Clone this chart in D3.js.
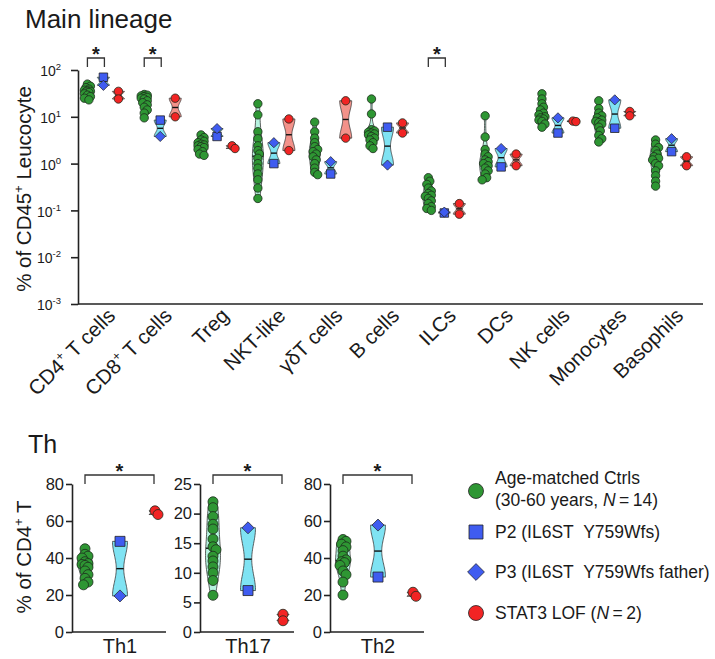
<!DOCTYPE html>
<html>
<head>
<meta charset="utf-8">
<script src="https://cdn.jsdelivr.net/npm/d3@7"></script>
<style>
  body { margin: 0; background: #fff; }
  text { font-family: "Liberation Sans", Arial, sans-serif; fill: #1a1a1a; }
</style>
</head>
<body>
<svg id="chart" width="715" height="659"></svg>
<script>
// ---- data: main lineage (% of CD45+ leucocytes) ----
const cellTypes = ["CD4^+ T cells", "CD8^+ T cells", "Treg", "NKT-like", "γδT cells", "B cells",
                   "ILCs", "DCs", "NK cells", "Monocytes", "Basophils"];
const ctrlMain = [
  [50, 45, 42, 39, 37, 36, 35, 34, 33, 31, 29, 27, 25, 23],
  [30, 29, 28, 27, 26, 25, 24, 22, 20, 18, 16, 14, 12, 9.5],
  [4.1, 3.6, 3.2, 3.0, 2.8, 2.6, 2.5, 2.4, 2.3, 2.2, 2.0, 1.8, 1.6, 1.5],
  [19, 11, 4.8, 3.4, 2.4, 1.9, 1.6, 1.3, 1.0, 0.8, 0.6, 0.45, 0.3, 0.18],
  [7.7, 4.8, 3.5, 2.8, 2.3, 2.0, 1.8, 1.6, 1.4, 1.2, 1.0, 0.8, 0.65, 0.58],
  [24, 11.5, 5.3, 5.0, 4.7, 4.5, 4.3, 4.1, 3.8, 3.5, 3.2, 2.8, 2.4, 2.1],
  [0.5, 0.42, 0.36, 0.3, 0.26, 0.23, 0.21, 0.2, 0.18, 0.16, 0.14, 0.12, 0.11, 0.1],
  [10.5, 3.7, 2.0, 1.6, 1.4, 1.2, 1.1, 1.0, 0.9, 0.8, 0.7, 0.6, 0.5, 0.45],
  [31, 24, 19, 16, 14, 12, 11, 10, 9.5, 9, 8.5, 8, 7, 6],
  [22, 15, 12, 10.5, 9.5, 8.5, 8, 7.5, 7, 6, 5, 4, 3.4, 2.9],
  [3.2, 2.6, 2.2, 1.9, 1.6, 1.4, 1.3, 1.2, 1.0, 0.9, 0.7, 0.55, 0.42, 0.33]
];
const p2Main = [70, 8.5, 3.8, 1.0, 0.6, 6.0, 0.088, 0.85, 4.5, 5.7, 1.8];
const p3Main = [47, 3.8, 5.6, 2.8, 1.1, 0.93, 0.092, 2.1, 9.5, 23, 3.4];
const stat3Main = [[35, 24], [25, 10], [2.4, 2.1], [9, 1.9], [22, 3.5], [7.4, 4.5],
                   [0.14, 0.083], [1.6, 0.9], [8.1, 7.9], [13, 10.5], [1.4, 0.9]];
const mainSig = ["CD4^+ T cells", "CD8^+ T cells", "ILCs"];
const logExponents = [-3, -2, -1, 0, 1, 2];

// ---- data: Th subsets (% of CD4+ T) ----
const thSubsets = ["Th1", "Th17", "Th2"];
const thMax = [80, 25, 80];
const thTicks = [[0, 20, 40, 60, 80], [0, 5, 10, 15, 20, 25], [0, 20, 40, 60, 80]];
const ctrlTh = [
  [45, 42, 41, 40, 38, 37, 36.5, 36, 35, 33, 31, 29, 27, 25.5],
  [22, 21, 19.5, 18.2, 17.4, 15.7, 14.4, 13.9, 12.8, 12, 11, 10, 8.7, 6.2],
  [50, 49, 47.5, 46, 44, 41, 39, 38, 37.5, 36, 33, 31, 27, 20]
];
const p2Th = [49, 7.0, 29.7];
const p3Th = [19.5, 17.6, 57.8];
const stat3Th = [[65.5, 63.5], [3.0, 1.9], [21.5, 19.3]];

const legendLabels = [["Age-matched Ctrls", "(30-60 years, _N_\u2009=\u200914)"],
                      ["P2 (IL6ST\u00a0 Y759Wfs)"],
                      ["P3 (IL6ST\u00a0 Y759Wfs father)"],
                      ["STAT3 LOF (_N_\u2009=\u20092)"]];

const colors = {
  ctrl:  { dot: "#2e9633", violin: "#b6f3df" },
  pat:   { dot: "#3f5cf0", violin: "#7fe3f3" },
  stat3: { dot: "#f22424", violin: "#f3928a" }
};

const svg = d3.select("#chart");

// text with ^x superscripts and _x_ italics
function richText(sel, str, size) {
  const parts = str.split(/(\^\S|_[^_]+_)/).filter(p => p);
  let raised = false;
  parts.forEach(p => {
    if (p[0] === "^") {
      sel.append("tspan").attr("font-size", size * 0.62).attr("dy", -size * 0.4).text(p.slice(1));
      raised = true;
    } else {
      const t = sel.append("tspan");
      if (raised) { t.attr("dy", size * 0.4); raised = false; }
      if (p[0] === "_") t.attr("font-style", "italic").text(p.slice(1, -1));
      else t.text(p);
    }
  });
}

function violin(g, vals, tf, ypix, cx, halfW, fill) {
  const t = vals.map(tf);
  const lo = d3.min(t), hi = d3.max(t);
  let h = t.length > 2 ? 0.8 * d3.deviation(t) * Math.pow(t.length, -0.2) : (hi - lo) * 0.3;
  if (!(h > 0)) h = 0.05;
  const steps = d3.range(41).map(i => lo + (hi - lo) * i / 40);
  const dens = steps.map(s => d3.sum(t, v => Math.exp(-0.5 * ((s - v) / h) ** 2)));
  const m = d3.max(dens);
  const pts = steps.map((s, i) => ({ v: s, w: halfW * dens[i] / m }));
  g.append("path")
    .attr("d", d3.area().curve(d3.curveBasis)
      .x0(d => cx - d.w).x1(d => cx + d.w).y(d => ypix(d.v))(pts))
    .attr("fill", fill).attr("stroke", "#3a3a3a").attr("stroke-width", 0.8);
  const med = d3.median(t);
  const mi = d3.bisector(d => d.v).left(pts, med);
  const w = pts[Math.min(mi, pts.length - 1)].w;
  g.append("line")
    .attr("x1", cx - w).attr("x2", cx + w)
    .attr("y1", ypix(med)).attr("y2", ypix(med))
    .attr("stroke", "#111").attr("stroke-width", 1.4);
}

// small swarm offsets so stacked dots spread a little sideways
function swarm(ys, r) {
  const order = d3.range(ys.length).sort((a, b) => ys[a] - ys[b]);
  const placed = [], off = new Array(ys.length).fill(0);
  const cand = [0, 1.5, -1.5, 3, -3];
  order.forEach(i => {
    let best = 0, bestD = -1;
    for (const c of cand) {
      const d = placed.length ? d3.min(placed, p => Math.hypot(p[0] - c, p[1] - ys[i])) : 99;
      if (d >= r * 0.9) { best = c; bestD = 99; break; }
      if (d > bestD) { bestD = d; best = c; }
    }
    off[i] = best;
    placed.push([best, ys[i]]);
  });
  return off;
}

function dots(g, vals, ypix, cx, r, fill) {
  const ys = vals.map(ypix);
  const off = swarm(ys, r);
  ys.forEach((y, i) => {
    g.append("circle").attr("cx", cx + off[i]).attr("cy", y).attr("r", r)
      .attr("fill", fill).attr("stroke", "#1d2b1d").attr("stroke-width", 0.8);
  });
}

function marker(g, kind, x, y, s, fill) {
  if (kind === "circle") {
    g.append("circle").attr("cx", x).attr("cy", y).attr("r", s / 2)
      .attr("fill", fill).attr("stroke", "#222").attr("stroke-width", 0.8);
  } else {
    g.append("path")
      .attr("d", d3.symbol(d3.symbolSquare, s * s)())
      .attr("transform", `translate(${x},${y})` + (kind === "diamond" ? " rotate(45) scale(0.85)" : ""))
      .attr("fill", fill).attr("stroke", "#222").attr("stroke-width", 0.8);
  }
}

function bracket(x1, x2, yTop, yLeg, starSize) {
  svg.append("path")
    .attr("d", `M${x1},${yLeg}V${yTop}H${x2}V${yLeg}`)
    .attr("fill", "none").attr("stroke", "#333").attr("stroke-width", 1.3);
  svg.append("text").attr("x", (x1 + x2) / 2).attr("y", yTop - 4 + starSize * 0.35)
    .attr("text-anchor", "middle").attr("font-size", starSize).attr("font-weight", "bold")
    .text("*");
}

// ================= Main lineage =================
svg.append("text").attr("x", 25).attr("y", 28).attr("font-size", 26).text("Main lineage");

const yLog = d3.scaleLog().domain([1e-3, 1e2]).range([304, 70]);
const xCat = d3.scaleBand().domain(cellTypes).range([75, 700]);
const off = { ctrl: -16, pat: 0, stat3: 15 };

const yAxis = svg.append("g").attr("transform", "translate(78,0)")
  .call(d3.axisLeft(yLog).tickValues(logExponents.map(e => 10 ** e)).tickSize(7).tickSizeOuter(0));
yAxis.attr("color", "#222");
yAxis.selectAll("path,line").attr("stroke-width", 1.6);
yAxis.selectAll(".tick text").each(function(d) {
  const t = d3.select(this).text(null).attr("font-size", 14).attr("x", -17).attr("dy", "0.4em");
  t.append("tspan").text("10");
  t.append("tspan").attr("font-size", 9.5).attr("dy", -6).text(String(Math.round(Math.log10(d))));
});

const xAxis = svg.append("g").attr("transform", "translate(0,304)")
  .call(d3.axisBottom(xCat).tickSize(0).tickSizeOuter(0));
xAxis.attr("color", "#222");
xAxis.select(".domain").attr("d", "M78,0H703").attr("stroke-width", 1.6);
xAxis.selectAll(".tick text").each(function(d) {
  const t = d3.select(this).text(null)
    .attr("x", 0).attr("y", 0).attr("dy", 0)
    .attr("font-size", 20.5).attr("text-anchor", "end")
    .attr("transform", "translate(13,13) rotate(-45)");
  richText(t, d, 20.5);
});

svg.append("text").attr("transform", "translate(31,189) rotate(-90)")
  .attr("text-anchor", "middle").attr("font-size", 20.5)
  .call(t => richText(t, "% of CD45^+ Leucocyte", 20.5));

const gMain = svg.append("g");
cellTypes.forEach((c, i) => {
  const cx = xCat(c) + xCat.bandwidth() / 2;
  const yp = v => yLog(10 ** v);
  violin(gMain, ctrlMain[i], Math.log10, yp, cx + off.ctrl, 5.5, colors.ctrl.violin);
  violin(gMain, [p2Main[i], p3Main[i]], Math.log10, yp, cx + off.pat, 6, colors.pat.violin);
  violin(gMain, stat3Main[i], Math.log10, yp, cx + off.stat3, 6, colors.stat3.violin);
  dots(gMain, ctrlMain[i], v => yLog(v), cx + off.ctrl, 4.2, colors.ctrl.dot);
  marker(gMain, "square", cx + off.pat, yLog(p2Main[i]), 8.5, colors.pat.dot);
  marker(gMain, "diamond", cx + off.pat, yLog(p3Main[i]), 8.5, colors.pat.dot);
  dots(gMain, stat3Main[i], v => yLog(v), cx + off.stat3, 4.2, colors.stat3.dot);
});
mainSig.forEach(c => {
  const cx = xCat(c) + xCat.bandwidth() / 2;
  bracket(cx + off.ctrl, cx + off.pat + 1, 58, 67, 20);
});

// ================= Th subsets =================
svg.append("text").attr("x", 28).attr("y", 453).attr("font-size", 25).text("Th");
svg.append("text").attr("transform", "translate(31,557) rotate(-90)")
  .attr("text-anchor", "middle").attr("font-size", 20.5)
  .call(t => richText(t, "% of CD4^+ T", 20.5));

const panelX = [72, 200, 330];
thSubsets.forEach((name, i) => {
  const ax = panelX[i];
  const y = d3.scaleLinear().domain([0, thMax[i]]).range([632, 484]);
  const x = d3.scalePoint().domain(["ctrl", "pat", "stat3"]).range([ax + 13, ax + 83]);

  const ga = svg.append("g").attr("transform", `translate(${ax},0)`)
    .call(d3.axisLeft(y).tickValues(thTicks[i]).tickSize(6).tickSizeOuter(0));
  ga.attr("color", "#222");
  ga.selectAll("path,line").attr("stroke-width", 1.6);
  ga.selectAll(".tick text").attr("font-size", 16.5).attr("x", -8);
  svg.append("line").attr("x1", ax).attr("x2", ax + 94).attr("y1", 632).attr("y2", 632)
    .attr("stroke", "#222").attr("stroke-width", 1.6);
  svg.append("text").attr("x", ax + 48).attr("y", 653).attr("text-anchor", "middle")
    .attr("font-size", 20).text(name);

  const g = svg.append("g");
  const id = v => v;
  violin(g, ctrlTh[i], id, y, x("ctrl"), 7.5, colors.ctrl.violin);
  violin(g, [p2Th[i], p3Th[i]], id, y, x("pat"), 7.5, colors.pat.violin);
  violin(g, stat3Th[i], id, y, x("stat3"), 6, colors.stat3.violin);
  dots(g, ctrlTh[i], y, x("ctrl"), 5, colors.ctrl.dot);
  marker(g, "square", x("pat"), y(p2Th[i]), 10, colors.pat.dot);
  marker(g, "diamond", x("pat"), y(p3Th[i]), 10, colors.pat.dot);
  dots(g, stat3Th[i], y, x("stat3"), 5, colors.stat3.dot);

  bracket(x("ctrl"), x("stat3") - 1, 475, 484, 20);
});

// ================= Legend =================
const legY = [491, 532, 572, 613];
const legKinds = ["circle", "square", "diamond", "circle"];
const legFill = [colors.ctrl.dot, colors.pat.dot, colors.pat.dot, colors.stat3.dot];
const gLeg = svg.append("g");
legendLabels.forEach((lines, i) => {
  marker(gLeg, legKinds[i], 476, legY[i], legKinds[i] === "circle" ? 15 : 14, legFill[i]);
  lines.forEach((ln, j) => {
    const y0 = lines.length > 1 ? legY[i] - 7 + j * 22 : legY[i] + 6;
    const t = gLeg.append("text").attr("x", 495).attr("y", y0).attr("font-size", 17.5)
      .style("white-space", "pre");
    richText(t, ln, 17.5);
  });
});
</script>
</body>
</html>
